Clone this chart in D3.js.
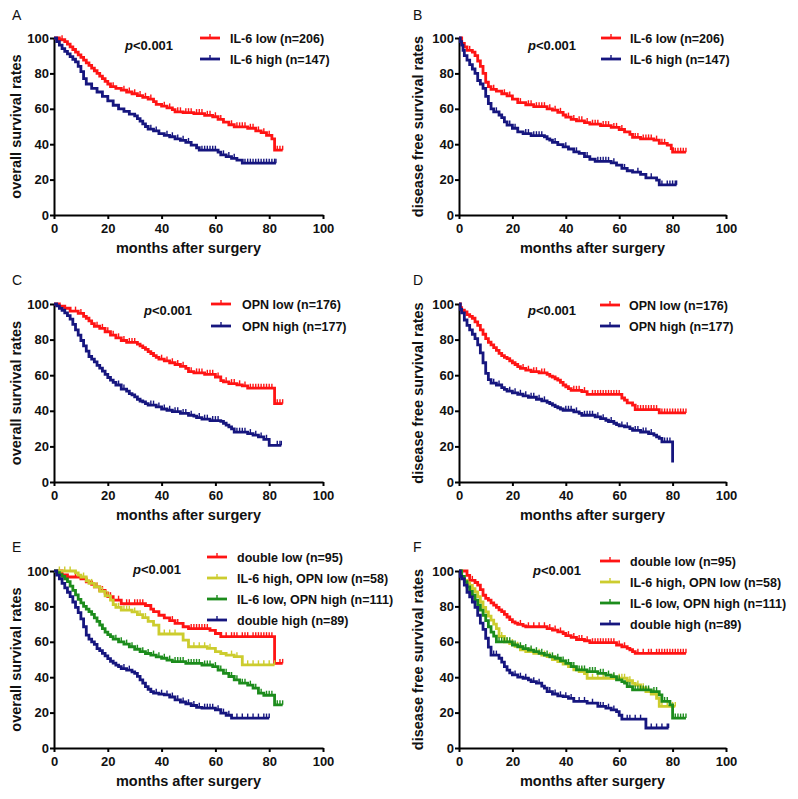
<!DOCTYPE html>
<html><head><meta charset="utf-8">
<script src="https://cdn.jsdelivr.net/npm/d3@7"></script>
<style>
body{margin:0;background:#fff}
text{font-family:"Liberation Sans",Arial,Helvetica,sans-serif}
</style>
</head><body>
<svg id="chart" width="798" height="799"></svg>
<script>
// ---------------- DATA ----------------
const xTicks = [0, 20, 40, 60, 80, 100];
const yTicks = [0, 20, 40, 60, 80, 100];
const pLabel = "<0.001";
const xTitle = "months after surgery";
const yTitles = ["overall survival rates", "disease free survival rates"];
const panelLetters = ["A", "B", "C", "D", "E", "F"];

const legendA = ["IL-6 low (n=206)", "IL-6 high (n=147)"];
const legendC = ["OPN low (n=176)", "OPN high (n=177)"];
const legendE = ["double low (n=95)", "IL-6 high, OPN low (n=58)", "IL-6 low, OPN high (n=111)", "double high (n=89)"];

// Panel A – overall survival, IL-6
const A_lowT = [0,2,4,5,6,7,8,9,10,11,12,13,14,15,16,17,18,19,20,21,23,25,27,29,31,33,35,37,38,40,42,44,45,48,52,56,59,61,63,65,67,72,75,77,79,81,82];
const A_lowS = [100,99,98,96.5,95,93.5,92,90.5,89,87.5,86,84.5,83,81.5,80,78.5,77,75.5,74,72.5,71.5,70.5,69.5,68.5,67.5,66.5,65.5,64,62.5,61.5,60.5,59.5,58.3,57.8,57.3,56.3,55.5,54,52.5,51,49.8,49,47.5,46.5,45,43,36.6];
const A_lowC = [3,22,26,28,30,32,34,36,41,43,46,47,49,50,51,53,54,55,57,58,60,62,66,68,69,70,71,73,74,76,78,80,83,84,85];
const A_highT = [0,1,2,3,4,5,6,7,8,9,10,11,12,14,16,18,20,22,24,26,28,30,31,32,33,34,35,37,39,41,43,45,47,49,51,53,54,61,62,64,66,68,70];
const A_highS = [100,98,96,94,92.5,91,89.5,88,86.5,84,81,77,74,71.5,69.5,67,64.5,62,60,58.5,57,56,54.5,53,51.5,50,48.5,47.5,46,45,44.2,43,42.2,41,39.5,38,36.6,35.5,34,33,32,31,29.3];
const A_highC = [36,38,42,44,46,48,50,55,56,57,58,59,60,63,65,67,71,72,73,74,75,76,77,78,79,80,81,82,82.5];

// Panel B – disease free survival, IL-6
const B_lowT = [0,1,2,3,5,6,7,8,9,10,11,12,14,16,18,20,22,25,28,33,35,37,39,40,42,44,47,49,53,57,60,62,64,65,68,73,75,78,79.5,80];
const B_lowS = [100,97,95,93,92,90,87,84,80,75,72.5,71,70,68.5,67.3,65.5,63.5,62.3,61.2,60,59.2,58,56.5,55.3,54,53.2,52.2,51.3,50.5,49.5,48.3,47,45.5,43.8,43,42.3,40.5,39.5,37.5,35.5];
const B_lowC = [4,13,17,19,23,26,27,29,30,31,32,34,36,38,41,43,45,46,48,50,51,52,54,55,56,58,59,61,66,67,69,70,71,72,74,76,77,81,82,83,84,85];
const B_highT = [0,0.5,1,1.5,2,3,4,5,6,7,8,9,10,11,12,13,15,16,17,18,20,22,24,27,32,33,34,35,37,39,41,43,45,47,49,51,57,59,61,63,65,68,70,74,75];
const B_highS = [100,98,96,93,90,87.5,85,82.5,80,76,74,71.5,67,63,60,58.3,56.5,55,52.6,50.8,49,47,46,44.8,44.2,43,42.3,41,39.8,38.5,37.3,35.7,34.8,33,31.5,30.3,29.5,28.2,26.3,25,24.2,23,21,19.7,17];
const B_highC = [14,19,21,25,26,28,29,30,31,36,40,44,48,52,53,54,55,56,58,62,67,72,76,78,79,80,81,81.5];

// Panel C – overall survival, OPN
const C_lowT = [0,2,4,6,9,11,12,13,14,15,17,19,21,23,25,27,31,32,33,34,35,36,37,38,39,41,43,45,47,49,50,52,56,60,62,63,65,68,70,72,82];
const C_lowS = [100,98.8,97.6,96,94.7,93,92,90.5,89,87.5,86.3,84.4,82.5,81,79.5,78.4,77.5,76.5,75.5,74.5,73.3,72.2,71,70,69,68,67,66,65,63.8,62,61.3,60.5,59,57,56.3,55.3,54.6,54,52.7,44];
const C_lowC = [8,10,16,18,20,22,24,26,28,29,30,40,42,44,46,48,51,53,54,55,57,58,59,61,64,66,67,69,71,73,74,75,76,77,78,79,80,81,83,84,85];
const C_highT = [0,1,2,3,4,5,6,7,8,9,10,11,12,13,14,15,16,17,18,19,20,21,22,23,25,27,28,29,30,31,32,33,34,35,38,40,42,44,47,50,52,53,55,58,62,63,64,65,66,67,72,74,76,78,80];
const C_highS = [100,99,97.5,96.5,95,93.5,91.5,88.5,85.5,82.5,79.5,76.5,73.5,70.5,69,67.5,65.5,64,62.3,60.5,58.7,57.2,56,54.5,52.2,51,49.7,49,47.8,46.5,45.5,45,44,43.2,42.2,41,40.3,39.5,38.5,37.5,37,36.2,35.3,34.5,34.1,33,32,31,29.8,28,27.2,26.3,25.3,24,20.6];
const C_highC = [24,26,36,37,39,41,43,45,46,48,49,51,54,56,57,59,60,61,68,69,70,71,73,75,77,79,83,84,84.5];

// Panel D – disease free survival, OPN
const D_lowT = [0,0.5,1,2,3,4,5,6,7,8,9,10,11,12,13,14,15,16,17,18,19,20,21,22,23,25,27,30,33,34,35,36,37,38,39,40,41,42,46,48,61,62,63,65,66,75];
const D_lowS = [100,98,96.5,95.5,94,93,92,90,88,85.5,83,80.5,78.5,77,75.5,74,72.3,71,70,69.3,68,67,66,64.8,63.8,62.8,62,61.3,60.5,59.5,59,58,57.2,56,54.5,53.5,52.5,51.5,50.8,49.2,47.2,46,44.5,43.2,40.7,38.8];
const D_lowC = [24,26,28,29,31,32,43,44,45,47,50,51,52,53,54,55,56,57,58,59,60,67,68,69,70,71,72,73,74,76,77,78,79,80,81,82,83,84,85];
const D_highT = [0,0.5,1,2,3,4,5,6,7,8,9,10,11,12,14,16,17,18,20,22,24,26,29,31,33,34,35,36,37,38,39,43,45,46,51,53,55,56,58,59,60,62,64,65,68,71,73,74,75,76,80];
const D_highS = [100,97,95,91,88,85.5,83,80.5,77,72.5,67,61,57.5,55.5,54.5,53,52,51,50.1,49.3,48.4,47.6,46.5,45.6,44.7,44,43.2,42.4,41.7,41,40.3,39.4,38.5,37.5,36.6,35.6,34.7,34,33,32.2,31.5,31,30,29,28.1,27.2,26.3,25.4,24.5,22.5,11];
const D_highC = [13,15,19,21,23,25,27,28,30,32,40,41,42,44,47,48,49,50,52,54,57,61,63,66,67,69,70,72,77,78,79];

// Panel E – overall survival, combined groups
const E_dlT = [0,3,5,10,12,14,15,17,19,20,22,25,34,36,37,39,41,43,45,48,50,58,60,62,82];
const E_dlS = [100,97.8,96.6,95.5,93.8,92.5,91,89,87.5,85.5,83.5,81.5,80.5,78.5,77,75,73.5,72,70.4,68.5,67.5,66.5,64.7,62.9,47.8];
const E_dlC = [8,16,18,21,24,27,28,30,31,32,33,44,46,51,52,53,54,55,56,57,64,66,67,68,70,71,72,74,75,76,77,78,79,80,81,84,85];
const E_hlT = [0,8,9,10,12,13,15,17,19,21,22,23,25,29,31,33,35,37,39,48,50,57,60,62,64,67,70];
const E_hlS = [100,98.9,97.7,96.6,94.5,93,91,88.5,86,83.5,81,79.5,77.9,76.9,75.3,73.7,71.5,69.4,64.4,61,57.2,56.3,54.4,53.4,52.5,51.6,47];
const E_hlC = [2,4,6,11,14,16,18,20,24,26,27,28,30,32,34,41,43,45,52,54,56,58,66,68,72,74,76,78,80,82];
const E_lhT = [0,1,2,3,4,5,6,7,8,9,10,11,12,13,14,15,16,17,18,19,20,21,22,24,26,28,30,32,34,36,38,40,42,44,49,55,59,61,63,65,67,69,72,74,76,78,82];
const E_lhS = [100,99,98,97,95.5,94,91.5,89,86.5,84,82,80,78.5,77,75.5,73.5,71.5,69.5,67.5,65.5,64,62.9,61.5,60,58.7,57.2,55.8,54.4,53.4,52.5,51.5,50.7,49.7,48.8,47.8,46.9,46,44,42.2,40.4,38.5,36.6,35.5,33.8,31,29.8,24.4];
const E_lhC = [23,25,27,29,31,33,35,37,39,41,43,45,46,47,48,50,51,52,53,54,56,57,58,60,62,64,66,68,70,71,73,75,77,79,80,81,83,84,85];
const E_dhT = [0,1,2,3,4,5,6,7,8,9,10,11,12,13,14,15,16,17,18,19,20,21,22,23,24,25,27,29,30,31,32,33,34,35,36,37,39,41,43,45,47,49,51,53,55,60,62,64,66];
const E_dhS = [100,97.7,95.5,93,90.5,88,85.5,82.5,79.5,76.5,73,68.5,63.8,61.5,60,58.5,56.2,55,53.5,52,50.5,49,48,46.8,46,44.9,44,43,42.2,40.5,38.5,36.6,34.7,33.2,31.9,31,30.4,30,28.8,27.2,26,25,24,23,22.5,21.6,19.7,18.5,16.9];
const E_dhC = [26,28,38,40,42,44,46,48,50,52,54,56,57,58,59,61,63,65,68,70,72,74,76,78,79,80];

// Panel F – disease free survival, combined groups
const F_dlT = [0,3,4,6,7,8,9,10,11,12,13,14,15,16,17,18,19,20,21,22,24,25,33,35,37,39,40,42,44,47,49,59,61,63,64,65,66];
const F_dlS = [100,97.5,94.7,93.5,92,89.5,86.3,84.5,83.5,82,80.7,79.5,78,77,75.5,74,72.5,71.3,70.5,69.8,69,68.5,67.5,66.6,65.6,64.7,63.5,62.5,61.3,60.6,59.5,58.2,57.2,56.3,55.5,54.5,53.5];
const F_dlC = [5,23,26,28,30,32,34,36,38,41,43,45,46,48,50,51,52,53,54,55,56,57,58,60,62,67,69,71,72,74,75,76,77,78,79,80,81,82,83,84,85];
const F_hlT = [0,1,2,3,4,5,6,7,8,9,10,11,12,13,14,15,17,19,21,23,25,28,31,33,35,37,39,41,43,45,47,48,63,65,66,68,70,72,74,75];
const F_hlS = [100,97,94.7,93.3,91.9,90,88.2,85.5,82.5,79.5,76.9,74.5,72.2,70,67.5,63,60,59,57.5,55.5,54.4,53.5,52.5,51.6,50,48.8,47.4,46,44.1,43.2,42,39.4,38,36.5,35.6,34,31.9,30.5,28.1,23.5];
const F_hlC = [16,18,20,22,24,26,27,29,30,32,34,36,38,40,42,44,46,50,52,54,55,57,58,60,61,62,64,67,69,71,73,76,78,80,81];
const F_lhT = [0,1,2,3,4,5,6,7,8,9,10,11,12,13,14,20,22,24,26,28,30,32,34,36,38,40,42,44,48,52,55,57,59,61,62,63,65,72,75,76,79,80];
const F_lhS = [100,97,94,91,88.5,86.3,83.5,80.7,77.9,75,72,68.5,65.5,63.2,60,58.2,57.2,56.2,55.3,54.4,53.5,52.5,51.5,50.7,49.2,47.8,46,44.1,43.2,42.2,41.2,40.3,38.5,37.5,36.6,34.7,32.8,31.9,30,26.3,24.4,16.9];
const F_lhC = [15,16,17,18,19,21,23,25,27,29,31,33,35,37,39,41,43,45,46,47,49,50,51,53,54,56,58,60,64,66,67,68,69,70,71,73,74,77,78,81,82,83,84,85];
const F_dhT = [0,0.5,1,2,3,4,5,6,7,8,9,10,11,12,15,16,17,18,19,20,22,24,26,27,29,31,32,33,35,37,39,41,43,48,52,55,57,59,60,61,70];
const F_dhS = [100,97,95.5,92,88,85.4,82.5,79.5,75,70.5,67,62,57,52.5,50.7,48.5,46,44,42.5,41.3,40,39.4,38.5,37.5,36.6,35,33.8,31.9,30.5,29.5,29,28,26.3,25.3,23.5,22.5,21.5,20.6,18.5,16.3,11.3];
const F_dhC = [13,14,21,23,25,28,30,34,36,38,40,42,45,47,50,53,54,56,58,63,64,66,68,72,74,76,78,78.5];

// ---------------- STYLE / LAYOUT ----------------
const C_RED = "#ff1414", C_BLUE = "#16167f", C_YEL = "#cccc2e", C_GRN = "#1c8c1c";
const colX0 = [54, 459], colX1 = [323, 726];
const rowTop = [38, 304, 571], rowBot = [215, 482, 748];

const panels = [
  {letter: panelLetters[0], col:0, row:0, ytitle: yTitles[0], names: legendA,
   series: [[A_lowT, A_lowS, A_lowC, C_RED], [A_highT, A_highS, A_highC, C_BLUE]],
   leg: {x:200, y:38, tx:230, dy:21}, p: {x:125, y:50}, lab:{x:12, y:20}},
  {letter: panelLetters[1], col:1, row:0, ytitle: yTitles[1], names: legendA,
   series: [[B_lowT, B_lowS, B_lowC, C_RED], [B_highT, B_highS, B_highC, C_BLUE]],
   leg: {x:601, y:38, tx:630, dy:21}, p: {x:528, y:50}, lab:{x:413, y:20}},
  {letter: panelLetters[2], col:0, row:1, ytitle: yTitles[0], names: legendC,
   series: [[C_lowT, C_lowS, C_lowC, C_RED], [C_highT, C_highS, C_highC, C_BLUE]],
   leg: {x:211, y:304, tx:242, dy:22}, p: {x:144, y:315}, lab:{x:12, y:285}},
  {letter: panelLetters[3], col:1, row:1, ytitle: yTitles[1], names: legendC,
   series: [[D_lowT, D_lowS, D_lowC, C_RED], [D_highT, D_highS, D_highC, C_BLUE]],
   leg: {x:600, y:305, tx:629, dy:21}, p: {x:528, y:315}, lab:{x:413, y:285}},
  {letter: panelLetters[4], col:0, row:2, ytitle: yTitles[0], names: legendE,
   series: [[E_dlT, E_dlS, E_dlC, C_RED], [E_hlT, E_hlS, E_hlC, C_YEL], [E_lhT, E_lhS, E_lhC, C_GRN], [E_dhT, E_dhS, E_dhC, C_BLUE]],
   leg: {x:207, y:557, tx:237, dy:21}, p: {x:133, y:574}, lab:{x:12, y:552}},
  {letter: panelLetters[5], col:1, row:2, ytitle: yTitles[1], names: legendE,
   series: [[F_dlT, F_dlS, F_dlC, C_RED], [F_hlT, F_hlS, F_hlC, C_YEL], [F_lhT, F_lhS, F_lhC, C_GRN], [F_dhT, F_dhS, F_dhC, C_BLUE]],
   leg: {x:600, y:561, tx:630, dy:21}, p: {x:533, y:575}, lab:{x:413, y:552}}
];

const svg = d3.select("#chart");
svg.append("rect").attr("width", 798).attr("height", 799).attr("fill", "#fff");

panels.forEach(P => {
  const x0 = colX0[P.col], x1 = colX1[P.col];
  const yT = rowTop[P.row], yB = rowBot[P.row];
  const x = d3.scaleLinear().domain([0, 100]).range([x0, x1]);
  const y = d3.scaleLinear().domain([0, 100]).range([yB, yT]);
  const g = svg.append("g");

  // panel letter
  g.append("text").attr("x", P.lab.x).attr("y", P.lab.y)
    .attr("font-size", 14).attr("fill", "#111").text(P.letter);

  // axes
  const xa = g.append("g").attr("transform", `translate(0,${yB})`)
    .call(d3.axisBottom(x).tickValues(xTicks).tickSize(4).tickSizeOuter(0).tickPadding(5));
  const ya = g.append("g").attr("transform", `translate(${x0},0)`)
    .call(d3.axisLeft(y).tickValues(yTicks).tickSize(4).tickSizeOuter(0).tickPadding(1));
  [xa, ya].forEach(a => {
    a.select(".domain").attr("stroke", "#000").attr("stroke-width", 2);
    a.selectAll(".tick line").attr("stroke", "#000").attr("stroke-width", 2);
    a.selectAll(".tick text").attr("font-size", 13).attr("font-weight", "bold").attr("fill", "#111")
      .style("font-family", '"Liberation Sans",Arial,sans-serif');
  });

  // axis titles
  g.append("text").attr("x", (x0 + x1) / 2).attr("y", yB + 38)
    .attr("text-anchor", "middle").attr("font-size", 14.5).attr("font-weight", "bold")
    .attr("fill", "#111").text(xTitle);
  const ytx = x0 - (P.col === 0 ? 33.5 : 36);
  g.append("text").attr("transform", `translate(${ytx},${(yT + yB) / 2}) rotate(-90)`)
    .attr("text-anchor", "middle").attr("font-size", 14.5).attr("font-weight", "bold")
    .attr("fill", "#111").text(P.ytitle);

  // p value
  const pt = g.append("text").attr("x", P.p.x).attr("y", P.p.y)
    .attr("font-size", 13).attr("font-weight", "bold").attr("fill", "#111");
  pt.append("tspan").attr("font-style", "italic").text("p");
  pt.append("tspan").text(pLabel);

  // curves
  const line = d3.line().x(d => x(d[0])).y(d => y(d[1])).curve(d3.curveStepAfter);
  P.series.forEach(([T, S, Cn, col]) => {
    const end = Math.max(T[T.length - 1], Cn[Cn.length - 1]);
    const pts = T.map((t, i) => [t, S[i]]);
    pts.push([end, S[S.length - 1]]);
    g.append("path").attr("d", line(pts)).attr("fill", "none")
      .attr("stroke", col).attr("stroke-width", 2.8).attr("stroke-linejoin", "miter");
    const survAt = t => { let s = S[0]; for (let i = 0; i < T.length; i++) { if (T[i] <= t) s = S[i]; } return s; };
    g.selectAll(null).data(Cn).enter().append("line")
      .attr("x1", d => x(d)).attr("x2", d => x(d))
      .attr("y1", d => y(survAt(d))).attr("y2", d => y(survAt(d)) - 4.5)
      .attr("stroke", col).attr("stroke-width", 1.4);
  });

  // legend
  P.series.forEach((s, i) => {
    const ly = P.leg.y + i * P.leg.dy;
    g.append("line").attr("x1", P.leg.x).attr("x2", P.leg.x + 20).attr("y1", ly).attr("y2", ly)
      .attr("stroke", s[3]).attr("stroke-width", 2.8);
    g.append("line").attr("x1", P.leg.x + 10).attr("x2", P.leg.x + 10).attr("y1", ly).attr("y2", ly - 4)
      .attr("stroke", s[3]).attr("stroke-width", 1.4);
    g.append("text").attr("x", P.leg.tx).attr("y", ly + 4.5)
      .attr("font-size", 12.5).attr("font-weight", "bold").attr("fill", "#111").text(P.names[i]);
  });
});
</script>
</body></html>
